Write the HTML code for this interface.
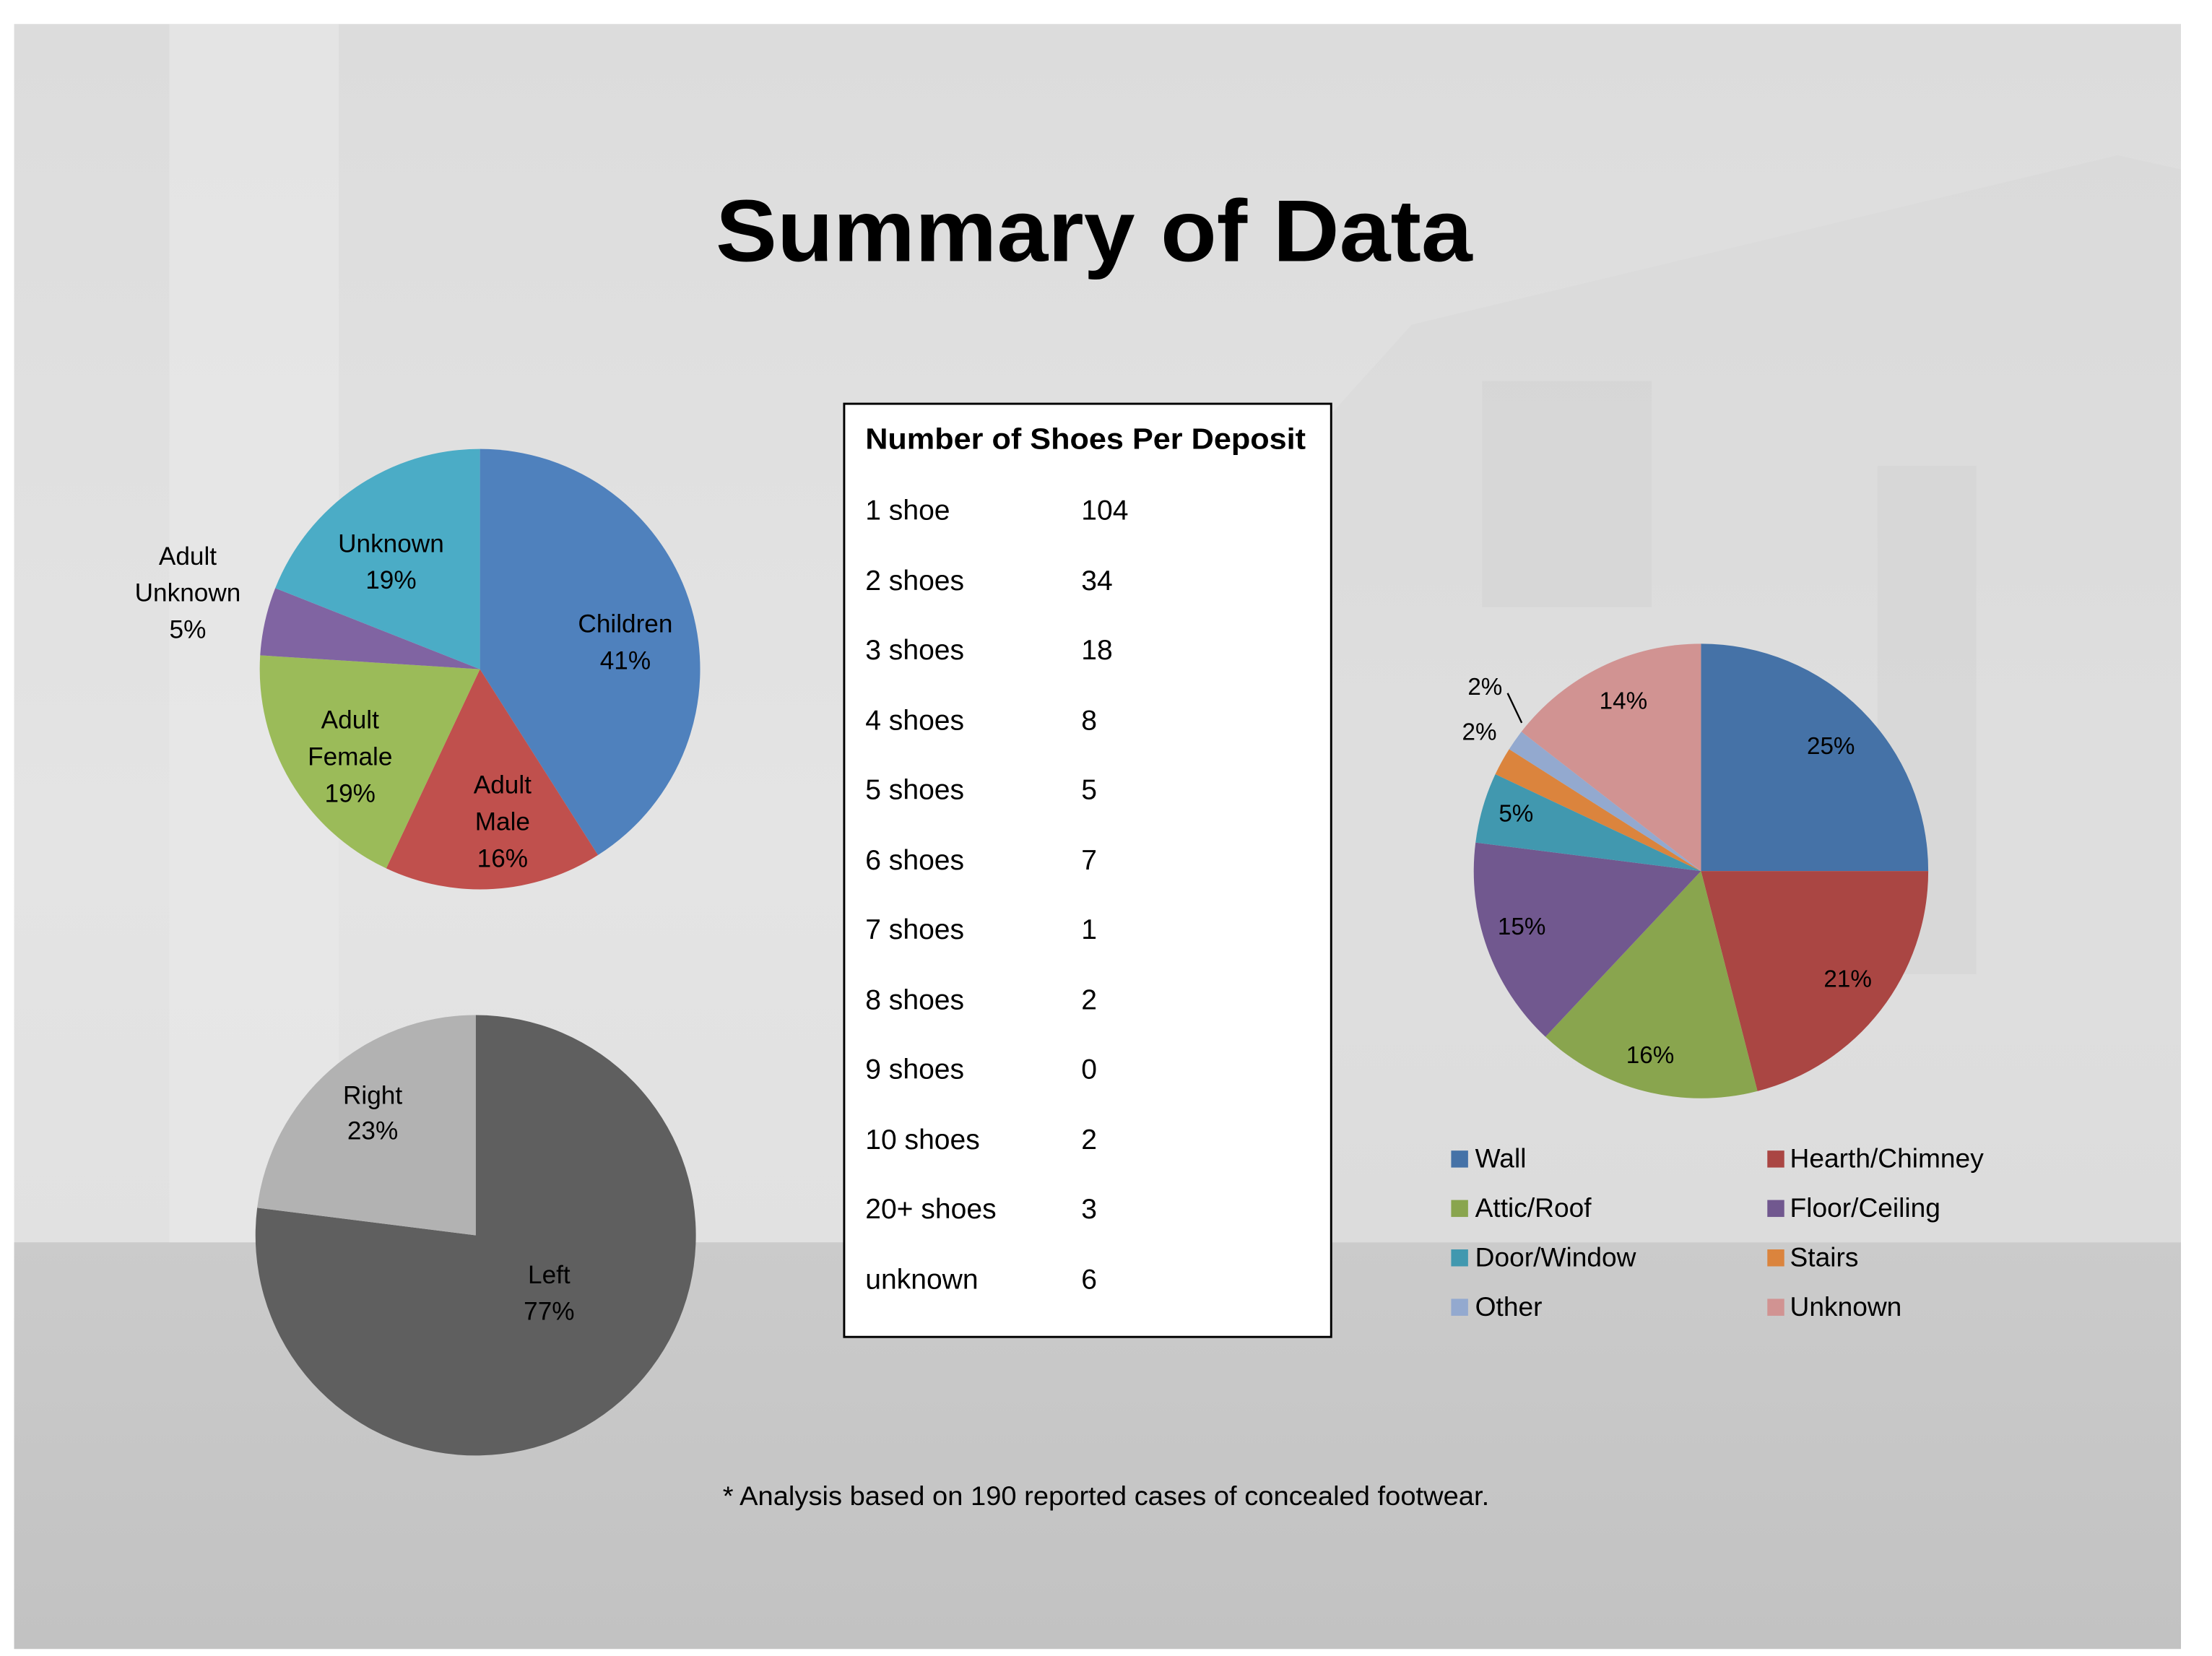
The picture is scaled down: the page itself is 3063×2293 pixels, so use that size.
<!DOCTYPE html>
<html><head><meta charset="utf-8"><style>
html,body{margin:0;padding:0;background:#fff}
svg{display:block}
text{font-family:"Liberation Sans",sans-serif;fill:#000}
</style></head><body>
<svg width="3063" height="2293" viewBox="0 0 1567 1173" preserveAspectRatio="none" xmlns="http://www.w3.org/2000/svg">
<defs>
<linearGradient id="top" x1="0" y1="0" x2="0" y2="1">
<stop offset="0" stop-color="#dcdcdc"/><stop offset="0.5" stop-color="#e4e4e4"/><stop offset="1" stop-color="#dedede"/>
</linearGradient>
<linearGradient id="bot" x1="0" y1="0" x2="0" y2="1">
<stop offset="0" stop-color="#cbcbcb"/><stop offset="1" stop-color="#c2c2c2"/>
</linearGradient>
</defs>
<rect x="10" y="17" width="1535" height="1151" fill="url(#top)"/>
<rect x="10" y="880" width="1535" height="288" fill="url(#bot)"/>
<rect x="120" y="17" width="120" height="863" fill="#e9e9e9" opacity="0.6"/>
<polygon points="820,430 1000,230 1500,110 1545,120 1545,880 820,880" fill="#d6d6d6" opacity="0.45"/>
<rect x="1050" y="270" width="120" height="160" fill="#cfcfcf" opacity="0.4"/>
<rect x="1330" y="330" width="70" height="360" fill="#cfcfcf" opacity="0.4"/>

<text x="775" y="185" font-size="62" font-weight="bold" text-anchor="middle" textLength="536" lengthAdjust="spacingAndGlyphs">Summary of Data</text>

<g>
<path d="M340,474 L340,318 A156,156 0 0 1 423.6,605.7 Z" fill="#4f81bd"/>
<path d="M340,474 L423.6,605.7 A156,156 0 0 1 273.6,615.1 Z" fill="#c0504d"/>
<path d="M340,474 L273.6,615.1 A156,156 0 0 1 184.3,464.2 Z" fill="#9bbb59"/>
<path d="M340,474 L184.3,464.2 A156,156 0 0 1 195.0,416.6 Z" fill="#8064a2"/>
<path d="M340,474 L195.0,416.6 A156,156 0 0 1 340,318 Z" fill="#4bacc6"/>
</g>
<g font-size="18" text-anchor="middle">
<text x="443" y="448">Children</text><text x="443" y="474">41%</text>
<text x="356" y="562">Adult</text><text x="356" y="588">Male</text><text x="356" y="614">16%</text>
<text x="248" y="516">Adult</text><text x="248" y="542">Female</text><text x="248" y="568">19%</text>
<text x="133" y="400">Adult</text><text x="133" y="426">Unknown</text><text x="133" y="452">5%</text>
<text x="277" y="391">Unknown</text><text x="277" y="417">19%</text>
</g>

<path d="M337,875 L337,719 A156,156 0 1 1 182.2,855.5 Z" fill="#5f5f5f"/>
<path d="M337,875 L182.2,855.5 A156,156 0 0 1 337,719 Z" fill="#b2b2b2"/>
<g font-size="18" text-anchor="middle">
<text x="264" y="782">Right</text><text x="264" y="807">23%</text>
<text x="389" y="909">Left</text><text x="389" y="935">77%</text>
</g>

<rect x="598" y="286" width="345" height="661" fill="#fff" stroke="#000" stroke-width="1.5"/>
<text x="613" y="318" font-size="21" font-weight="bold" textLength="312" lengthAdjust="spacingAndGlyphs">Number of Shoes Per Deposit</text>
<g font-size="20">
<text x="613" y="368">1 shoe</text><text x="766" y="368">104</text>
<text x="613" y="418">2 shoes</text><text x="766" y="418">34</text>
<text x="613" y="467">3 shoes</text><text x="766" y="467">18</text>
<text x="613" y="517">4 shoes</text><text x="766" y="517">8</text>
<text x="613" y="566">5 shoes</text><text x="766" y="566">5</text>
<text x="613" y="616">6 shoes</text><text x="766" y="616">7</text>
<text x="613" y="665">7 shoes</text><text x="766" y="665">1</text>
<text x="613" y="715">8 shoes</text><text x="766" y="715">2</text>
<text x="613" y="764">9 shoes</text><text x="766" y="764">0</text>
<text x="613" y="814">10 shoes</text><text x="766" y="814">2</text>
<text x="613" y="863">20+ shoes</text><text x="766" y="863">3</text>
<text x="613" y="913">unknown</text><text x="766" y="913">6</text>
</g>

<g>
<path d="M1205,617 L1205,456 A161,161 0 0 1 1366,617 Z" fill="#4572a7"/>
<path d="M1205,617 L1366,617 A161,161 0 0 1 1245.0,772.9 Z" fill="#aa4643"/>
<path d="M1205,617 L1245.0,772.9 A161,161 0 0 1 1094.8,734.4 Z" fill="#89a54e"/>
<path d="M1205,617 L1094.8,734.4 A161,161 0 0 1 1045.3,596.8 Z" fill="#71588f"/>
<path d="M1205,617 L1045.3,596.8 A161,161 0 0 1 1059.3,548.4 Z" fill="#4198af"/>
<path d="M1205,617 L1059.3,548.4 A161,161 0 0 1 1069.1,530.7 Z" fill="#db843d"/>
<path d="M1205,617 L1069.1,530.7 A161,161 0 0 1 1077.8,518.3 Z" fill="#93a9cf"/>
<path d="M1205,617 L1077.8,518.3 A161,161 0 0 1 1205,456 Z" fill="#d19392"/>
</g>
<line x1="1068" y1="491" x2="1078" y2="512" stroke="#000" stroke-width="1.2"/>
<g font-size="17" text-anchor="middle">
<text x="1297" y="534">25%</text>
<text x="1309" y="699">21%</text>
<text x="1169" y="753">16%</text>
<text x="1078" y="662">15%</text>
<text x="1074" y="582">5%</text>
<text x="1048" y="524">2%</text>
<text x="1052" y="492">2%</text>
<text x="1150" y="502">14%</text>
</g>

<g font-size="19">
<rect x="1028" y="815" width="12" height="12" fill="#4572a7"/><text x="1045" y="827">Wall</text>
<rect x="1252" y="815" width="12" height="12" fill="#aa4643"/><text x="1268" y="827">Hearth/Chimney</text>
<rect x="1028" y="850" width="12" height="12" fill="#89a54e"/><text x="1045" y="862">Attic/Roof</text>
<rect x="1252" y="850" width="12" height="12" fill="#71588f"/><text x="1268" y="862">Floor/Ceiling</text>
<rect x="1028" y="885" width="12" height="12" fill="#4198af"/><text x="1045" y="897">Door/Window</text>
<rect x="1252" y="885" width="12" height="12" fill="#db843d"/><text x="1268" y="897">Stairs</text>
<rect x="1028" y="920" width="12" height="12" fill="#93a9cf"/><text x="1045" y="932">Other</text>
<rect x="1252" y="920" width="12" height="12" fill="#d19392"/><text x="1268" y="932">Unknown</text>
</g>

<text x="512" y="1066" font-size="19" textLength="543" lengthAdjust="spacingAndGlyphs">* Analysis based on 190 reported cases of concealed footwear.</text>
</svg>
</body></html>
